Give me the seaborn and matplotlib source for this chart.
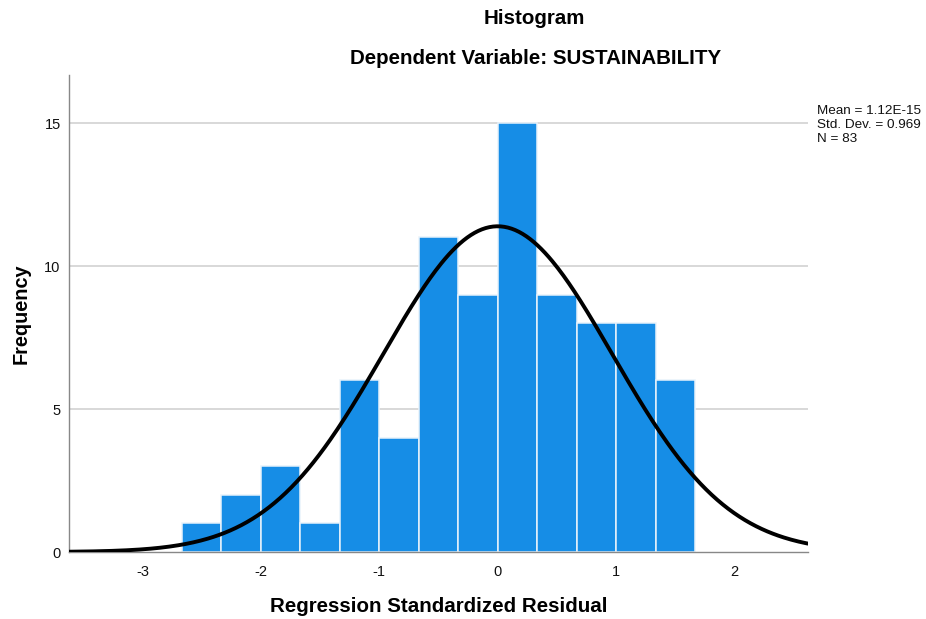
import numpy as np
import pandas as pd
import matplotlib
matplotlib.use("Agg")
import matplotlib.pyplot as plt
import seaborn as sns

# Residual histogram: bin starts (in standardized units) and frequencies
bin_width = 1 / 3
bin_starts = [-8/3, -7/3, -2, -5/3, -4/3, -1, -2/3, -1/3, 0, 1/3, 2/3, 1, 4/3]
frequencies = [1, 2, 3, 1, 6, 4, 11, 9, 15, 9, 8, 8, 6]

# Summary statistics of the residuals
res_mean = 1.12e-15
res_sd = 0.969
res_n = 83

x_ticks = [-3, -2, -1, 0, 1, 2]
y_ticks = [0, 5, 10, 15]

sns.set_theme(style="white")
plt.rcParams["font.family"] = ["Liberation Sans", "DejaVu Sans"]
plt.rcParams["text.color"] = "black"
plt.rcParams["axes.labelcolor"] = "black"

df = pd.DataFrame({"center": np.array(bin_starts) + bin_width / 2,
                   "count": frequencies})

fig = plt.figure(figsize=(9.26, 6.19), dpi=100)
ax = fig.add_axes([0.0745, 0.1082, 0.798, 0.7706])

for yv in y_ticks[1:]:
    ax.axhline(yv, color="#d6d6d6", lw=1.3, zorder=0)

sns.histplot(data=df, x="center", weights="count", binwidth=bin_width,
             binrange=(bin_starts[0], bin_starts[-1] + bin_width), ax=ax,
             color="#168de6", alpha=1, edgecolor="#e8f2fb", linewidth=1.1,
             zorder=2)

xs = np.linspace(-3.62, 2.62, 400)
pdf = np.exp(-0.5 * ((xs - res_mean) / res_sd) ** 2) / (res_sd * np.sqrt(2 * np.pi))
sns.lineplot(x=xs, y=pdf * res_n * bin_width, ax=ax, color="black", lw=2.8,
             zorder=3)

ax.set_xlim(-3.62, 2.62)
ax.set_ylim(0, 16.68)
ax.set_xticks(x_ticks)
ax.set_xticklabels([str(t) for t in x_ticks])
ax.set_yticks(y_ticks)
ax.tick_params(axis="both", length=0, labelsize=10.5, colors="#111111")
ax.tick_params(axis="y", pad=6)
ax.tick_params(axis="x", pad=9)

for side in ["top", "right"]:
    ax.spines[side].set_visible(False)
for side in ["left", "bottom"]:
    ax.spines[side].set_color("#888888")
    ax.spines[side].set_linewidth(1.0)

ax.set_xlabel("Regression Standardized Residual", fontsize=14.8,
              fontweight="bold", labelpad=13)
ax.set_ylabel("Frequency", fontsize=14.3, fontweight="bold", labelpad=10)

fig.text(0.577, 0.970, "Histogram", ha="center", va="center",
         fontsize=14.8, fontweight="bold")
fig.text(0.578, 0.906, "Dependent Variable: SUSTAINABILITY", ha="center",
         va="center", fontsize=14.8, fontweight="bold")

fig.text(0.882, 0.798,
         f"Mean = {res_mean:.2E}\nStd. Dev. = {res_sd:.3f}\nN = {res_n}",
         ha="left", va="center", fontsize=9.7, linespacing=1.22,
         color="#111111")

fig.savefig("out.png", dpi=100)
